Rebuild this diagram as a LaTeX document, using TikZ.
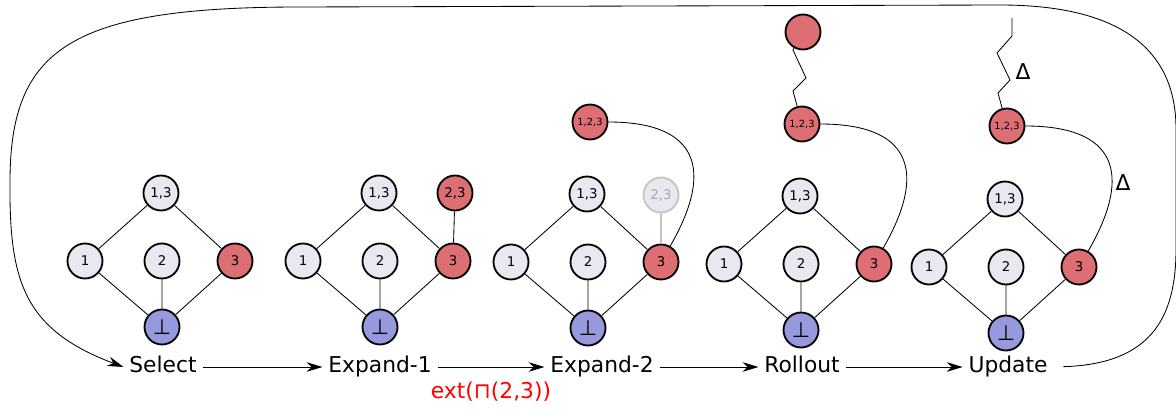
\documentclass[tikz,border=0pt]{standalone}
\usepackage{fontspec}
\setmainfont{DejaVu Sans}
\usepackage{xcolor}
\usetikzlibrary{arrows.meta}
\definecolor{pale}{HTML}{E8E8F0}
\definecolor{hot}{HTML}{DC6E74}
\definecolor{bottom}{HTML}{9799DE}
\definecolor{ghost}{HTML}{C4C4C4}
\tikzset{
  latnode/.style={circle,draw=black,line width=1.3pt,fill=pale,minimum size=0.875cm,
    inner sep=0pt,font=\fontsize{9.5}{11}\selectfont},
  hotnode/.style={latnode,fill=hot},
  botnode/.style={latnode,fill=bottom,font=\fontsize{15}{16}\selectfont},
  smallnode/.style={hotnode,font=\fontsize{7}{8}\selectfont},
  ghostnode/.style={latnode,draw=ghost,text=ghost!85!black},
  latedge/.style={line width=0.6pt},
  ghostedge/.style={line width=0.8pt,draw=ghost},
  steplabel/.style={font=\fontsize{15.5}{18}\selectfont,text height=11pt,text depth=3.5pt,inner sep=4pt},
  deltalabel/.style={font=\fontsize{15.5}{18}\selectfont},
  flowarrow/.style={-{Stealth[length=4mm,width=2.4mm]},line width=0.6pt}
}
\begin{document}
\begin{tikzpicture}[x=0.025cm,y=0.025cm]
\useasboundingbox (0,0) rectangle (1176,409);
\foreach \g/\x/\y in {s/162/148,a/380/148,b/588/147,r/801/145,u/1006/142}{
  \node[latnode] (\g-13) at (\x-1,\y+68) {1,3};
  \node[latnode] (\g-1) at (\x-77,\y) {1};
  \node[latnode] (\g-2) at (\x,\y) {2};
  \node[hotnode] (\g-3) at (\x+73,\y) {3};
  \node[botnode] (\g-b) at (\x,\y-66) {⊥};
  \draw[latedge] (\g-13) -- (\g-1) (\g-13) -- (\g-3) (\g-1) -- (\g-b) (\g-2) -- (\g-b) (\g-3) -- (\g-b);
}
\node[steplabel] (select) at (163,42) {Select};
\node[steplabel] (expone) at (380,42) {Expand-1};
\node[steplabel] (exptwo) at (602,42) {Expand-2};
\node[steplabel] (rollout) at (802,42) {Rollout};
\node[steplabel] (update) at (1008,42) {Update};
\draw[flowarrow] (select) -- (expone);
\draw[flowarrow] (expone) -- node[steplabel,below=2.5mm,text=red] {ext(⊓(2,3))} (exptwo);
\draw[flowarrow] (exptwo) -- (rollout);
\draw[flowarrow] (rollout) -- (update);

\node[hotnode] (a-23) at (455,216) {2,3};
\draw[latedge] (a-23) -- (a-3);

\node[smallnode] (b-123) at (590,287) {1,2,3};
\node[ghostnode] (b-23) at (661,214) {2,3};
\draw[ghostedge] (b-23) -- (b-3);
\draw[latedge] (b-123) to[out=0,in=60,looseness=1.65] (b-3);

\node[hotnode] (r-top) at (803,377) {};
\node[smallnode] (r-123) at (802,285) {1,2,3};
\draw[latedge] (r-top) -- (793,359) -- (806,331) -- (793,318) -- (r-123);
\draw[latedge] (r-123) to[out=0,in=60,looseness=1.65] (r-3);

\coordinate (u-top) at (1012,391);
\node[smallnode] (u-123) at (1007,283) {1,2,3};
\draw[latedge] (u-top) -- (1012,373) -- (997,356) -- (1010,329) -- (998,316) -- (u-123);
\node[deltalabel] at (1023,337) {Δ};
\draw[latedge] (u-123) to[out=0,in=60,looseness=1.65] (u-3);
\node[deltalabel] at (1123,226) {Δ};

\draw[flowarrow,shorten <=2.5mm] (update.east) .. controls (1150,45) and (1176,90) .. (1176,160)
  -- (1176,280) .. controls (1176,360) and (1120,404) .. (1000,404) -- (300,402)
  .. controls (70,402) and (11,360) .. (10,230) .. controls (9,130) and (22,80) .. (select.west);
\end{tikzpicture}
\end{document}
